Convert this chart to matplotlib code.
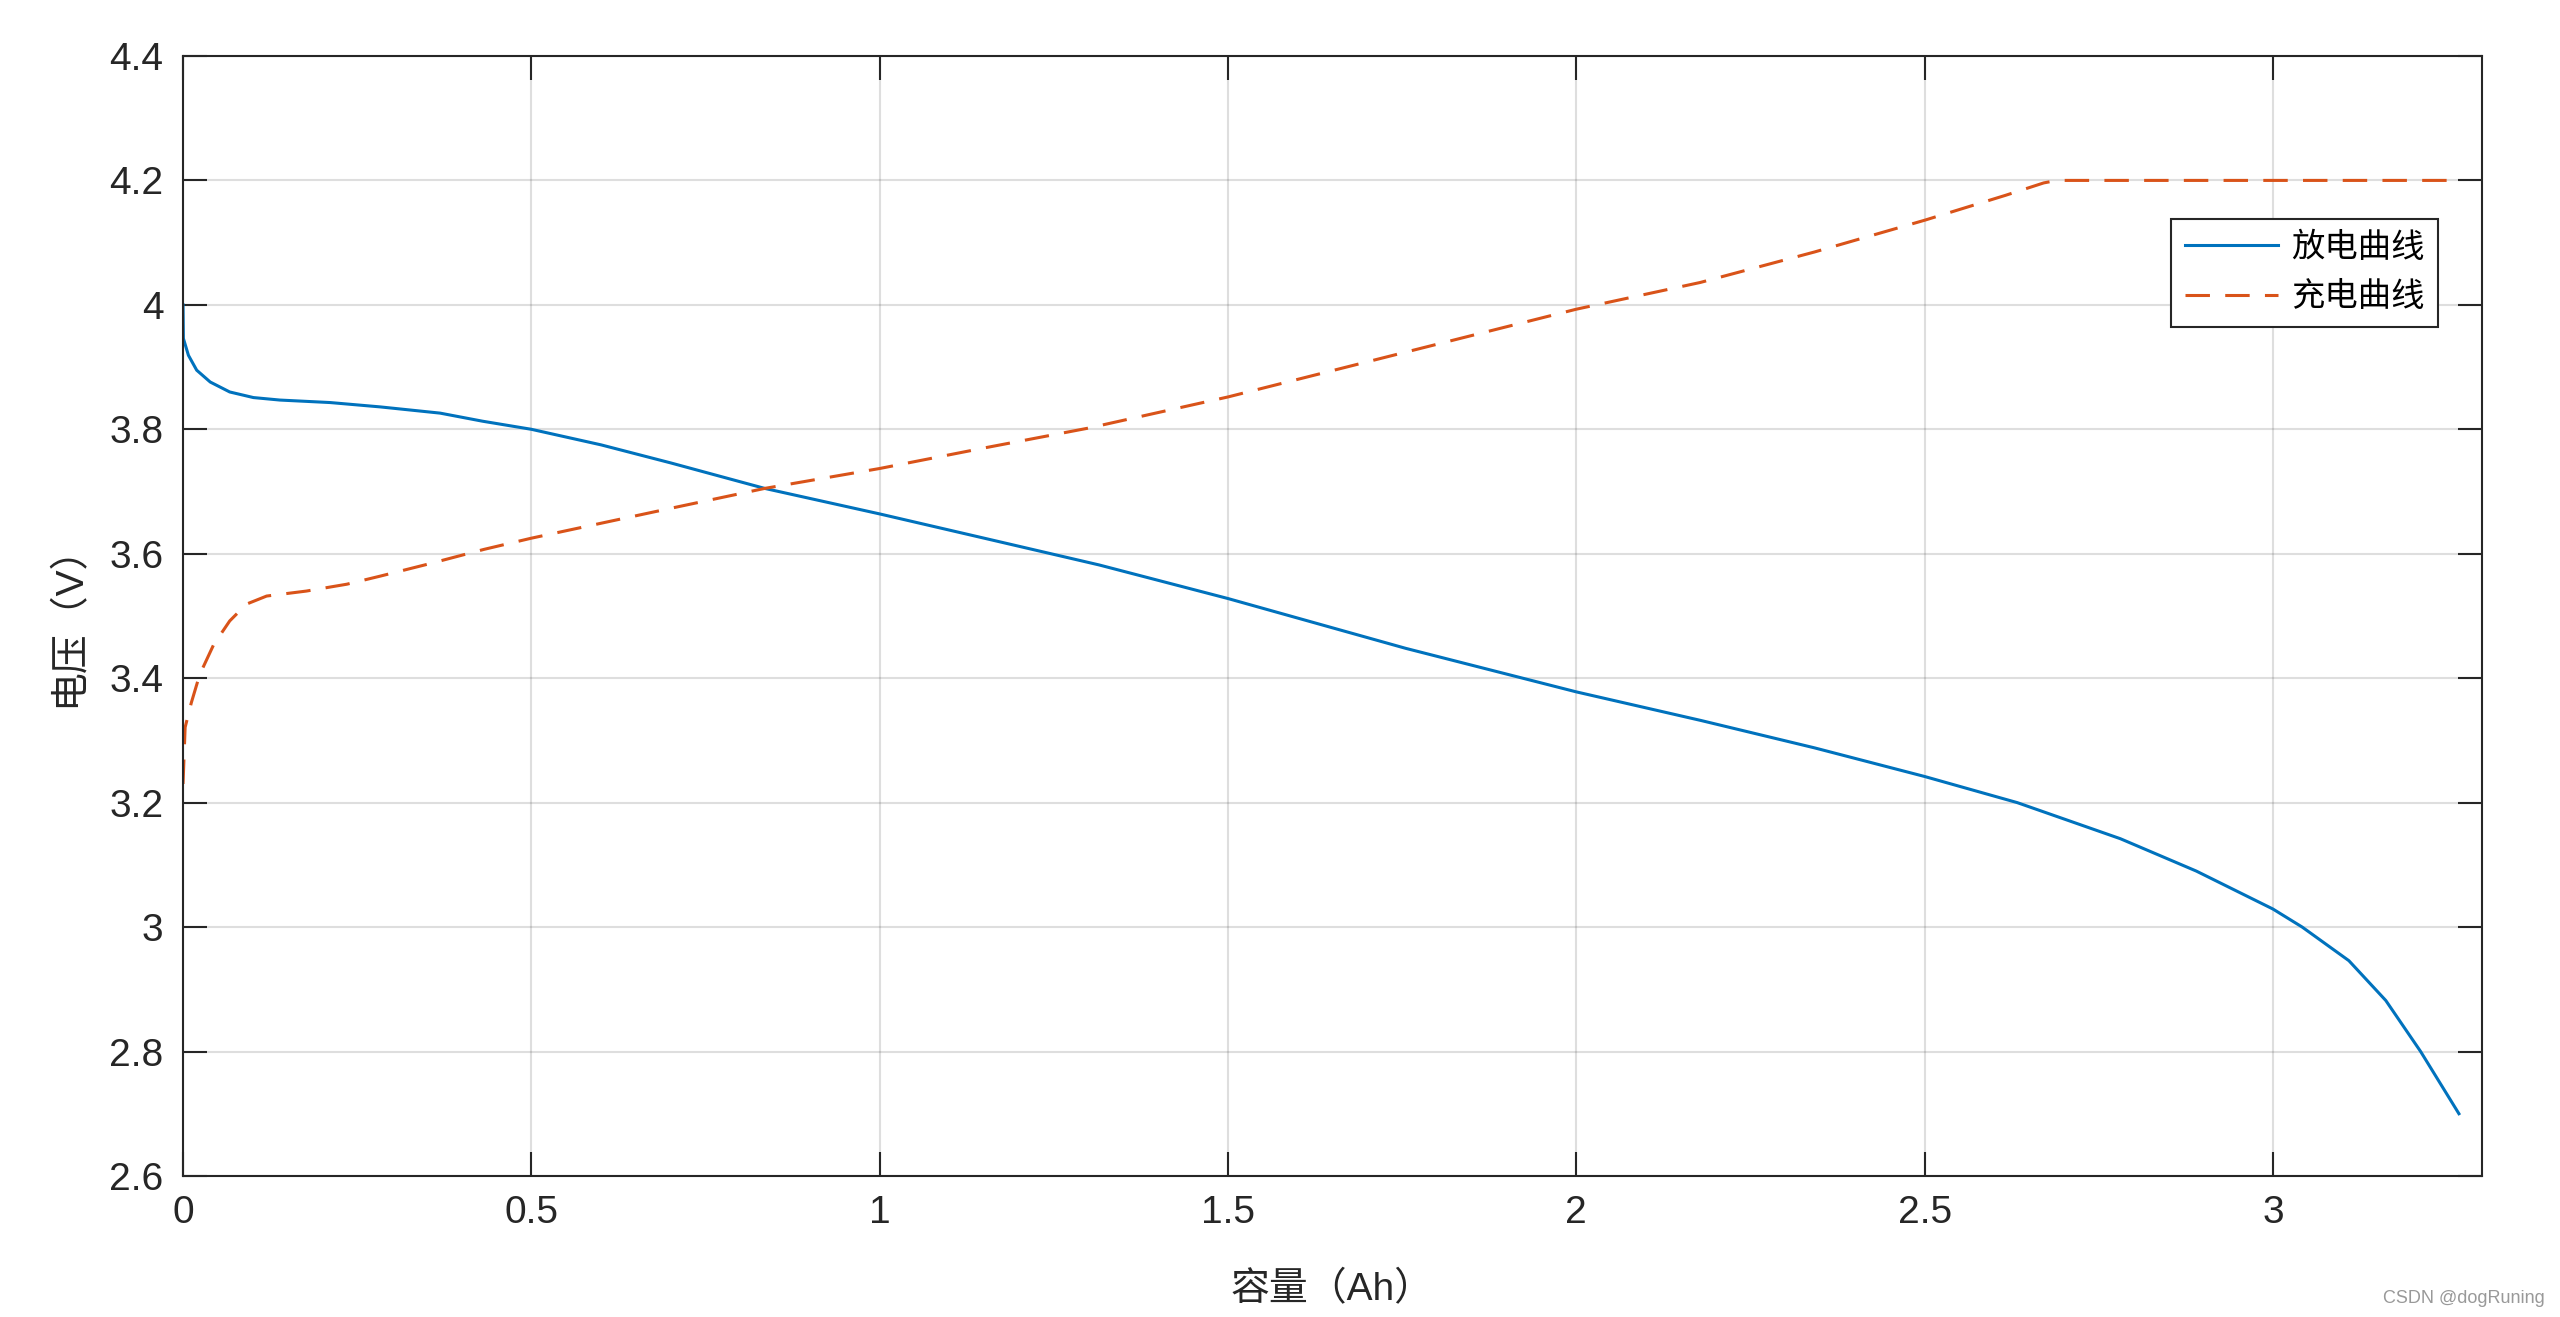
import matplotlib.pyplot as plt
from matplotlib.ticker import FuncFormatter

plt.rcParams['font.family'] = ['Liberation Sans', 'Noto Sans CJK SC', 'DejaVu Sans']

# discharge curve (capacity Ah, voltage V)
dis_cap = [0, 0.0005, 0.0077, 0.0196, 0.039, 0.067, 0.101, 0.139, 0.211, 0.283, 0.369,
           0.43, 0.5, 0.6, 0.7, 0.835, 1.0, 1.15, 1.315, 1.5, 1.755, 2.0, 2.179, 2.342,
           2.5, 2.633, 2.781, 2.89, 3.0, 3.042, 3.109, 3.162, 3.212, 3.267]
dis_v = [4.0, 3.946, 3.919, 3.895, 3.876, 3.860, 3.851, 3.847, 3.843, 3.836, 3.826,
         3.813, 3.80, 3.775, 3.746, 3.705, 3.664, 3.625, 3.582, 3.528, 3.448, 3.378, 3.332, 3.288,
         3.242, 3.2, 3.142, 3.09, 3.029, 3.0, 2.946, 2.882, 2.80, 2.70]

# charge curve
chg_cap = [0, 0.003, 0.012, 0.024, 0.044, 0.067, 0.091, 0.12, 0.177, 0.235, 0.283, 0.354,
           0.432, 0.5, 0.6, 0.7, 0.835, 1.0, 1.15, 1.30, 1.5, 1.755, 2.0, 2.178, 2.342,
           2.5, 2.616, 2.671, 2.69, 3.265]
chg_v = [3.23, 3.321, 3.361, 3.406, 3.454, 3.492, 3.519, 3.532, 3.540, 3.551, 3.564, 3.584,
         3.607, 3.625, 3.649, 3.673, 3.705, 3.737, 3.77, 3.802, 3.852, 3.924, 3.993, 4.036, 4.085,
         4.136, 4.176, 4.196, 4.2, 4.2]

fig = plt.figure(figsize=(25.6, 13.17), dpi=100)
ax = fig.add_axes([0.0715, 0.1071, 0.898, 0.8504])

ax.plot(dis_cap, dis_v, color='#0072BD', lw=2.2, label='放电曲线')
ax.plot(chg_cap, chg_v, color='#D95319', lw=2.2, ls=(0, (8, 5)), label='充电曲线')

ax.set_xlim(0, 3.3)
ax.set_ylim(2.6, 4.4)
ax.set_xticks([0, 0.5, 1, 1.5, 2, 2.5, 3])
ax.set_yticks([2.6, 2.8, 3.0, 3.2, 3.4, 3.6, 3.8, 4.0, 4.2, 4.4])
ax.xaxis.set_major_formatter(FuncFormatter(lambda v, p: '%g' % v))
ax.yaxis.set_major_formatter(FuncFormatter(lambda v, p: '%g' % round(v, 2)))

ax.grid(True, color='#262626', alpha=0.15, lw=1.5)
ax.set_axisbelow(True)
ax.tick_params(direction='in', length=17, width=1.5, top=True, right=True,
               labelsize=28, colors='#262626', pad=14)
for s in ax.spines.values():
    s.set_color('#262626')
    s.set_linewidth(1.5)

ax.set_xlabel('容量（Ah）', fontsize=28, color='#262626', labelpad=29)
ax.set_ylabel('电压（V）', fontsize=28, color='#262626', labelpad=16)

leg = ax.legend(loc='upper right', bbox_to_anchor=(0.981, 0.854), borderaxespad=0,
                fontsize=24, fancybox=False, edgecolor='#262626', framealpha=1,
                handlelength=2.8, handletextpad=0.4, borderpad=0.4, labelspacing=0.55)
leg.get_frame().set_linewidth(1.5)

fig.text(0.994, 0.014, 'CSDN @dogRuning', ha='right', va='center', fontsize=13, color='#999999')

fig.savefig('out.png', dpi=100)
